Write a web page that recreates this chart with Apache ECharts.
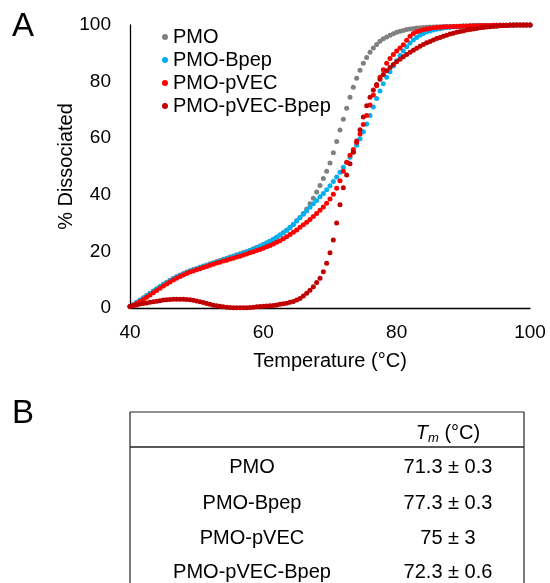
<!DOCTYPE html>
<html>
<head>
<meta charset="utf-8">
<script src="https://cdn.jsdelivr.net/npm/echarts@6/dist/echarts.min.js"></script>
<style>
html,body{margin:0;padding:0;background:#fff;}
#chart{width:550px;height:583px;}
</style>
</head>
<body>
<div id="chart"></div>
<script>
// Temperature (°C)
var temps = [40,40.5,41,41.5,42,42.5,43,43.5,44,44.5,45,45.5,46,46.5,47,47.5,48,48.5,49,49.5,
50,50.5,51,51.5,52,52.5,53,53.5,54,54.5,55,55.5,56,56.5,57,57.5,58,58.5,59,59.5,
60,60.5,61,61.5,62,62.5,63,63.5,64,64.5,65,65.5,66,66.5,67,67.5,68,68.5,69,69.5,
70,70.5,71,71.5,72,72.5,73,73.5,74,74.5,75,75.5,76,76.5,77,77.5,78,78.5,79,79.5,
80,80.5,81,81.5,82,82.5,83,83.5,84,84.5,85,85.5,86,86.5,87,87.5,88,88.5,89,89.5,
90,90.5,91,91.5,92,92.5,93,93.5,94,94.5,95,95.5,96,96.5,97,97.5,98,98.5,99,99.5,100];

// % Dissociated
var pmo = [0.5,1.2,2,2.8,3.6,4.4,5.2,6,6.8,7.6,8.4,9.1,9.8,10.5,11.1,11.7,12.2,12.7,13.2,13.6,
14,14.4,14.8,15.2,15.6,16,16.4,16.8,17.2,17.6,18,18.4,18.8,19.2,19.6,20,20.4,20.9,21.4,21.9,
22.4,23,23.6,24.3,25,25.8,26.6,27.5,28.4,29.5,30.8,32,33.4,35,36.8,38.8,41,43.3,45.8,48.3,
51.2,54.9,58.8,62.9,66.7,70.6,74.5,78,81.2,84,86.5,88.5,90.4,91.9,93.1,94.3,95.1,95.8,96.4,96.9,
97.4,97.8,98.1,98.4,98.6,98.8,98.9,99,99.1,99.2,99.3,99.3,99.4,99.4,99.5,99.5,99.5,99.6,99.6,99.6,
99.7,99.7,99.7,99.7,99.8,99.8,99.8,99.8,99.8,99.9,99.9,99.9,99.9,99.9,100,100,100,100,100,100,100];

var pmoBpep = [0.5,1.1,1.9,2.7,3.5,4.3,5.1,5.9,6.7,7.5,8.2,8.9,9.6,10.3,10.9,11.5,12,12.5,13,13.4,
13.8,14.2,14.6,15,15.4,15.8,16.2,16.6,17,17.4,17.8,18.2,18.6,19,19.4,19.8,20.3,20.8,21.3,21.8,
22.4,23,23.6,24.3,25,25.8,26.6,27.5,28.5,29.6,30.7,31.9,33.1,34.3,35.6,36.8,38,39.3,40.5,41.8,
43.2,44.7,46.3,48,49.7,51.4,53.3,55.3,57.5,59.8,62.3,65,68,71,74,76.7,79.2,81.5,83.5,85.5,
87.4,89.2,90.8,92.3,93.6,94.7,95.6,96.4,97,97.5,97.9,98.2,98.5,98.7,98.9,99.1,99.2,99.3,99.4,99.5,
99.5,99.6,99.6,99.7,99.7,99.7,99.8,99.8,99.8,99.8,99.9,99.9,99.9,99.9,100,100,100,100,100,100,100];

var pmoPvec = [0.5,1,1.6,2.3,3,3.8,4.6,5.4,6.2,7,7.8,8.5,9.2,9.9,10.5,11.1,11.7,12.2,12.7,13.1,
13.5,13.9,14.3,14.7,15.1,15.5,15.9,16.2,16.6,16.9,17.3,17.6,18,18.3,18.7,19.1,19.5,19.9,20.3,20.7,
21.1,21.6,22.1,22.6,23.2,23.8,24.5,25.2,26,26.8,27.6,28.5,29.4,30.3,31.3,32.3,33.4,34.5,35.7,37,
38.5,40.2,42.3,45,48.3,51.5,54,56,58.5,61.5,64.8,68,71.7,75.3,78.5,81.5,84.2,86.5,88.2,89.6,
90.8,91.9,93,94.6,96,97,97.6,98,98.3,98.6,98.8,99,99.1,99.2,99.3,99.4,99.4,99.5,99.5,99.6,
99.6,99.6,99.7,99.7,99.7,99.8,99.8,99.8,99.8,99.9,99.9,99.9,99.9,99.9,100,100,100,100,100,100,100];

var pmoPvecBpep = [0.5,0.8,1.1,1.4,1.6,1.8,2,2.2,2.4,2.6,2.8,2.9,3,3.1,3.1,3.1,3.1,3,2.9,2.7,
2.5,2.2,1.9,1.6,1.3,1,0.8,0.6,0.4,0.3,0.2,0.1,0.1,0.1,0.1,0.1,0.2,0.3,0.4,0.5,
0.6,0.7,0.8,0.9,1.1,1.3,1.5,1.7,2,2.3,2.8,3.4,4.2,5.2,6.3,7.5,9,10.5,12.8,15.8,
19.5,24,30,36.5,42.5,47,51,55,59,63,67.5,71.5,74.5,77,79,80.8,82.5,83.8,85,86,
87,87.9,88.8,89.6,90.4,91.1,91.8,92.5,93.1,93.7,94.2,94.7,95.2,95.6,96,96.4,96.8,97.1,97.4,97.7,
97.9,98.2,98.4,98.6,98.8,99,99.1,99.3,99.4,99.5,99.6,99.7,99.8,99.8,99.9,99.9,100,100,100,100,100];

var seriesNames = ['PMO','PMO-Bpep','PMO-pVEC','PMO-pVEC-Bpep'];
var seriesColors = ['#808080','#00B0F0','#FF0000','#C00000'];
var seriesValues = [pmo, pmoBpep, pmoPvec, pmoPvecBpep];

// Table B
var tableNames = ['PMO','PMO-Bpep','PMO-pVEC','PMO-pVEC-Bpep'];
var tableTm = ['71.3 ± 0.3','77.3 ± 0.3','75 ± 3','72.3 ± 0.6'];

var FONT = 'Liberation Sans, Arial, sans-serif';
var chart = echarts.init(document.getElementById('chart'), null, {renderer:'canvas'});

function pairs(vals){
  var out = [];
  for (var i=0;i<temps.length;i++) out.push([temps[i], vals[i]]);
  return out;
}

var series = seriesNames.map(function(n,i){
  return {
    name:n, type:'scatter', data:pairs(seriesValues[i]),
    symbol:'circle', symbolSize:5,
    itemStyle:{color:seriesColors[i], opacity:1},
    emphasis:{disabled:true}, animation:false
  };
});

var graphic = [
  {type:'text', left:12, top:10, style:{text:'A', fontSize:33, fontFamily:FONT, fill:'#000'}},
  {type:'text', left:12, top:397, style:{text:'B', fontSize:33, fontFamily:FONT, fill:'#000'}},
  {type:'line', shape:{x1:130,y1:412,x2:524,y2:412}, style:{stroke:'#222', lineWidth:1.2}},
  {type:'line', shape:{x1:130,y1:447,x2:524,y2:447}, style:{stroke:'#222', lineWidth:1.5}},
  {type:'line', shape:{x1:130,y1:412,x2:130,y2:583}, style:{stroke:'#222', lineWidth:1.2}},
  {type:'line', shape:{x1:524,y1:412,x2:524,y2:583}, style:{stroke:'#222', lineWidth:1.2}},
  {type:'text', x:448, y:433, style:{
    text:'{i|T}{s|m}{n| (°C)}', align:'center', verticalAlign:'middle', fill:'#000',
    rich:{
      i:{fontSize:20, fontStyle:'italic', fontFamily:FONT, fill:'#000'},
      s:{fontSize:13, fontStyle:'italic', fontFamily:FONT, fill:'#000', padding:[10,0,0,0]},
      n:{fontSize:20, fontFamily:FONT, fill:'#000'}
    }}}
];
var rowY = [467, 503, 538, 572];
tableNames.forEach(function(n,i){
  graphic.push({type:'text', x:252, y:rowY[i], style:{text:n, align:'center', verticalAlign:'middle', fontSize:20, fontFamily:FONT, fill:'#000'}});
  graphic.push({type:'text', x:448, y:rowY[i], style:{text:tableTm[i], align:'center', verticalAlign:'middle', fontSize:20, fontFamily:FONT, fill:'#000'}});
});

chart.setOption({
  animation:false,
  backgroundColor:'#fff',
  textStyle:{fontFamily:FONT},
  grid:{left:130, right:20, top:25, bottom:275, containLabel:false},
  legend:{
    data:seriesNames, orient:'vertical', left:157, top:22,
    icon:'circle', itemWidth:6, itemHeight:6, itemGap:3,
    textStyle:{fontSize:20, color:'#000', fontFamily:FONT, padding:[0,0,0,0]},
    selectedMode:false
  },
  xAxis:{
    type:'value', min:40, max:100, interval:20,
    name:'Temperature (°C)', nameLocation:'middle', nameGap:43,
    nameTextStyle:{fontSize:20, color:'#000', fontFamily:FONT},
    axisLine:{show:true, onZero:false, lineStyle:{color:'#000', width:1.3}},
    axisTick:{show:false}, splitLine:{show:false},
    axisLabel:{fontSize:19, color:'#000', margin:15, fontFamily:FONT}
  },
  yAxis:{
    type:'value', min:0, max:100, interval:20,
    name:'% Dissociated', nameLocation:'middle', nameGap:54, nameMoveOverlap:false,
    nameTextStyle:{fontSize:20, color:'#000', fontFamily:FONT},
    axisLine:{show:true, lineStyle:{color:'#000', width:1.3}},
    axisTick:{show:false}, splitLine:{show:false},
    axisLabel:{fontSize:19, color:'#000', margin:19, fontFamily:FONT}
  },
  series:series,
  graphic:graphic
});
</script>
</body>
</html>
